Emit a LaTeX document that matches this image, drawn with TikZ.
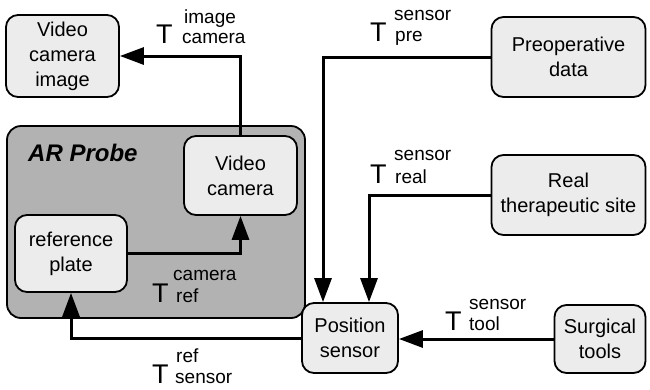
\documentclass[tikz,border=0pt]{standalone}
\usepackage{fontspec}
\setmainfont{Liberation Sans}
\usetikzlibrary{arrows.meta}
\definecolor{boxgray}{HTML}{ECECEC}
\definecolor{probegray}{HTML}{B2B2B2}
\begin{document}
\begin{tikzpicture}[x=1pt,y=-1pt,
  box/.style={draw=black, line width=1.8pt, fill=boxgray, rounded corners=12pt,
    align=center, inner sep=0pt, font=\fontsize{20}{25}\selectfont},
  probebox/.style={draw=black, line width=1.8pt, fill=probegray, rounded corners=14pt, inner sep=0pt},
  conn/.style={line width=3pt, -{Triangle[length=24pt,width=17pt]}},
  bigT/.style={font=\fontsize{27}{27}\selectfont, inner sep=0pt, anchor=base west},
  idx/.style={font=\fontsize{19}{19}\selectfont, inner sep=0pt, anchor=base west}]
\useasboundingbox (0,0) rectangle (650,389);

% boxes
\node[box, minimum width=113pt, minimum height=82pt] (vci) at (62.5,56) {Video\\camera\\image};
\node[probebox, minimum width=298pt, minimum height=192pt] (probe) at (156,222) {};
\node[inner sep=0pt, anchor=base west, font=\fontsize{24}{24}\selectfont\bfseries\itshape] (probelbl) at (28,161) {AR Probe};
\node[box, minimum width=113pt, minimum height=79pt] (vc) at (240.5,175.5) {Video\\camera};
\node[box, minimum width=112pt, minimum height=77pt] (rp) at (71,253.5) {reference\\plate};
\node[box, minimum width=96pt, minimum height=70pt] (ps) at (350,338) {Position\\sensor};
\node[box, minimum width=91pt, minimum height=68pt] (st) at (600,339) {Surgical\\tools};
\node[box, minimum width=154pt, minimum height=80pt] (pd) at (568.5,57) {Preoperative\\data};
\node[box, minimum width=154pt, minimum height=80pt] (rts) at (568.5,195) {Real\\therapeutic site};

% connectors
\draw[conn] (vc.north) |- (vci.east);
\draw[conn] (rp.east) -| (vc.south);
\draw[conn] (ps.west) -| (rp.south);
\draw[conn] (pd.west) -| ([xshift=-27pt]ps.north);
\draw[conn] (rts.west) -| ([xshift=19pt]ps.north);
\draw[conn] (st.west) -- (st.west -| ps.east);

% labels
\node[bigT] (t1) at (156,43) {T};
\node[idx] (t1a) at (184,23) {image};
\node[idx] (t1b) at (182,43) {camera};

\node[bigT] (t2) at (370,41) {T};
\node[idx] (t2a) at (394,20) {sensor};
\node[idx] (t2b) at (395,41) {pre};

\node[bigT] (t3) at (370,183) {T};
\node[idx] (t3a) at (394,160) {sensor};
\node[idx] (t3b) at (395,183) {real};

\node[bigT] (t4) at (152,302) {T};
\node[idx] (t4a) at (173,280) {camera};
\node[idx] (t4b) at (176,302) {ref};

\node[bigT] (t5) at (152,383) {T};
\node[idx] (t5a) at (176,362) {ref};
\node[idx] (t5b) at (175,383) {sensor};

\node[bigT] (t6) at (445,330) {T};
\node[idx] (t6a) at (469,309) {sensor};
\node[idx] (t6b) at (469,330) {tool};
\end{tikzpicture}
\end{document}
